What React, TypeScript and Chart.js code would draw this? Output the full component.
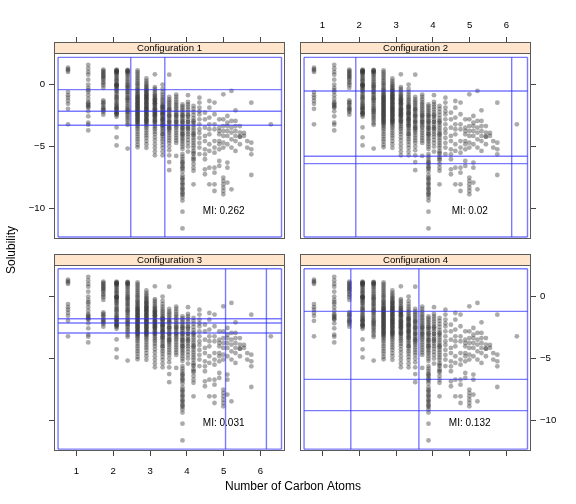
import React, { useEffect, useRef } from 'react';
import { Chart, registerables } from 'chart.js';

Chart.register(...registerables);

// ---- data ----
const carbonX = [
  0.77, 1.32, 1.73, 2.09, 2.39, 2.66, 2.9, 3.13, 3.34, 3.52, 3.71, 3.88, 4.03, 4.18,
  4.34, 4.49, 4.61, 4.75, 4.88, 4.99, 5.1, 5.21, 5.32, 5.44, 5.55, 5.64, 5.75, 6.28,
];

const solubility: number[][] = [
  [1.37, 1.25, 1.15, 1.02, -0.6, -0.85, -1.05, -1.3, -1.55, -1.95, -3.2],
  [1.6, 1.3, 1.02, 0.8, 0.4, 0.0, -0.27, -0.45, -0.6, -0.86, -1.13, -1.4, -1.5, -1.61, -1.7, -1.8, -1.85, -2.15, -2.56, -3.07, -3.23, -3.69],
  [1.21, 1.1, 1.02, 0.9, 0.8, 0.7, 0.62, 0.5, 0.4, 0.21, 0.1, -0.06, -0.27, -1.27, -1.4, -1.5, -1.61, -1.8, -1.9, -1.99, -2.1, -2.21, -2.42],
  [1.2, 1.15, 1.1, 1.1, 1.05, 1.0, 1.0, 0.9, 0.8, 0.7, 0.55, 0.45, 0.35, 0.25, 0.1, 0.0, 0.0, -0.05, -0.1, -0.1, -0.2, -0.3, -0.4, -0.5, -0.6, -0.75, -0.9, -1.0, -1.1, -1.2, -1.35, -1.5, -1.6, -1.7, -1.8, -1.9, -1.9, -2.0, -2.1, -2.2, -2.3, -2.3, -2.35, -2.45, -2.6, -3.45, -4.25, -4.9],
  [1.18, 1.12, 1.12, 1.05, 1.0, 0.9, 0.8, 0.65, 0.5, 0.35, 0.2, 0.05, -0.05, -0.15, -0.25, -0.35, -0.5, -0.6, -0.7, -0.85, -1.0, -1.1, -1.2, -1.3, -1.45, -1.6, -1.75, -1.9, -2.0, -2.1, -2.2, -2.3, -2.45, -2.6, -2.75, -2.9, -3.1, -3.25, -5.16],
  [1.15, 1.0, 0.85, 0.7, 0.55, 0.4, 0.25, 0.1, 0.0, -0.15, -0.3, -0.4, -0.5, -0.6, -0.7, -0.8, -0.9, -1.0, -1.0, -1.1, -1.2, -1.25, -1.3, -1.4, -1.5, -1.5, -1.6, -1.7, -1.75, -1.8, -1.9, -2.0, -2.0, -2.1, -2.2, -2.25, -2.3, -2.4, -2.5, -2.5, -2.6, -2.7, -2.75, -2.8, -2.9, -3.0, -3.0, -3.1, -3.2, -3.3, -3.45, -3.6, -3.8, -4.0, -4.2, -4.4, -4.6, -4.85, -5.05],
  [0.5, 0.3, 0.15, 0.0, -0.1, -0.2, -0.3, -0.4, -0.5, -0.5, -0.6, -0.7, -0.8, -0.8, -0.9, -1.0, -1.0, -1.1, -1.2, -1.2, -1.3, -1.4, -1.5, -1.5, -1.6, -1.7, -1.8, -1.8, -1.9, -2.0, -2.0, -2.1, -2.2, -2.2, -2.3, -2.4, -2.5, -2.5, -2.6, -2.7, -2.8, -2.8, -2.9, -3.0, -3.0, -3.1, -3.2, -3.35, -3.5, -3.7, -3.9, -4.1, -4.3, -4.55, -4.8, -5.1],
  [0.83, -0.2, -0.35, -0.5, -0.65, -0.8, -0.9, -1.0, -1.1, -1.2, -1.25, -1.3, -1.4, -1.5, -1.5, -1.6, -1.7, -1.8, -1.9, -2.0, -2.0, -2.1, -2.2, -2.25, -2.3, -2.4, -2.5, -2.5, -2.6, -2.7, -2.8, -2.9, -3.0, -3.0, -3.15, -3.3, -3.45, -3.6, -3.8, -4.0, -4.25, -4.5, -4.8, -5.1, -5.4, -5.7],
  [0.0, -0.35, -0.6, -0.8, -1.0, -1.15, -1.3, -1.45, -1.6, -1.7, -1.8, -1.8, -1.9, -2.0, -2.1, -2.2, -2.3, -2.3, -2.4, -2.5, -2.6, -2.7, -2.8, -2.8, -2.9, -3.0, -3.1, -3.2, -3.3, -3.35, -3.5, -3.65, -3.8, -4.0, -4.0, -4.2, -4.4, -4.6, -4.85, -5.1, -5.4, -5.7],
  [0.8, -1.0, -1.2, -1.35, -1.5, -1.65, -1.8, -1.95, -2.0, -2.1, -2.25, -2.4, -2.5, -2.55, -2.7, -2.85, -3.0, -3.0, -3.15, -3.3, -3.45, -3.5, -3.6, -3.75, -3.9, -4.1, -4.3, -4.5, -4.7, -5.0, -5.3, -5.7, -6.25, -6.9],
  [-0.8, -1.0, -1.2, -1.4, -1.55, -1.7, -1.85, -2.0, -2.15, -2.3, -2.45, -2.5, -2.6, -2.75, -2.9, -3.0, -3.05, -3.2, -3.35, -3.5, -3.7, -3.9, -4.1, -4.3, -4.5, -4.7, -5.75],
  [-1.6, -1.75, -1.9, -2.05, -2.2, -2.35, -2.5, -2.5, -2.65, -2.8, -2.95, -3.0, -3.1, -3.25, -3.4, -3.5, -3.55, -3.7, -3.85, -4.0, -4.0, -4.15, -4.3, -4.45, -4.6, -4.8, -5.0, -5.2, -5.6, -5.8, -6.0, -6.2, -6.3, -6.4, -6.6, -6.7, -6.8, -7.0, -7.3, -7.5, -7.6, -7.7, -7.9, -8.0, -8.1, -8.3, -8.4, -8.5, -8.7, -8.8, -8.9, -9.1, -9.35, -10.25, -11.6],
  [-0.85, -1.4, -1.6, -1.8, -2.0, -2.2, -2.4, -2.5, -2.6, -2.8, -3.0, -3.0, -3.2, -3.4, -3.5, -3.6, -3.8, -4.0, -4.2, -4.45, -4.7, -5.0, -5.4],
  [-1.72, -1.95, -2.2, -2.45, -2.7, -2.9, -3.0, -3.1, -3.3, -3.5, -3.7, -3.9, -4.0, -4.1, -4.3, -4.5, -4.7, -4.9, -5.1, -5.35, -5.5, -5.6, -5.85, -6.0, -6.1, -6.4, -6.7, -6.95, -8.04],
  [-1.05, -1.45, -1.85, -2.15, -2.4, -2.8, -3.2, -3.6, -3.9, -4.3, -4.7, -5.08, -5.6],
  [-2.26, -2.8, -3.47, -4.14, -4.55, -5.22, -5.62, -6.02, -6.83, -7.23],
  [-1.32, -1.86, -2.66, -3.2, -3.6, -4.01, -4.81, -5.35, -6.7, -8.04],
  [-1.45, -2.39, -3.2, -3.6, -4.55, -5.08, -5.49, -6.7, -7.1, -8.04, -8.58],
  [-2.8, -3.47, -3.74, -4.01, -4.55, -4.81, -5.22, -6.16, -6.56],
  [-0.78, -2.8, -3.34, -3.74, -4.14, -4.68, -5.08, -7.5, -7.77, -8.04, -8.31, -8.58, -8.85],
  [-2.53, -3.07, -3.34, -3.74, -4.14, -4.81, -6.29, -6.7, -7.9],
  [-0.51, -2.93, -3.47, -3.87, -4.41, -5.08, -8.44],
  [-2.07, -2.93, -3.34, -3.74, -4.14, -4.55, -5.35],
  [-3.34, -3.87, -4.2, -4.2, -4.81],
  [-3.9, -4.14],
  [-4.55, -5.08],
  [-1.46, -4.68, -5.22, -5.62, -7.29],
  [-3.2],
];

const xTicks = [1, 2, 3, 4, 5, 6];
const yTicks = [0, -5, -10];
const panelLabels = ['Configuration 1', 'Configuration 2', 'Configuration 3', 'Configuration 4'];
const miValues = ['0.262', '0.02', '0.031', '0.132'];
const gridVertical = [
  [0.5, 2.475, 3.4, 6.57],
  [0.5, 1.905, 6.14, 6.57],
  [0.5, 5.05, 6.16, 6.57],
  [0.5, 1.77, 3.62, 6.57],
];
const gridHorizontal = [
  [2.2, -0.4, -2.15, -3.28, -12.29],
  [2.2, -0.52, -5.78, -6.37, -12.29],
  [2.25, -1.78, -2.13, -2.93, -12.3],
  [2.25, -1.19, -6.67, -9.19, -12.3],
];
const miPos = { x: 5.0, y: -10.2 };
const xLabel = 'Number of Carbon Atoms';
const yLabel = 'Solubility';

// ---- layout / style ----
const W = 576;
const H = 504;
const X_MIN = 0.39;
const X_MAX = 6.665;
const Y_MIN = -12.45;
const Y_MAX = 2.55;
const STRIP = 11;
const TICK = 5;
const Y_AXIS_W = 40;
const X_AXIS_H = 36;
const FONT = "'Liberation Sans', Arial, Helvetica, sans-serif";

const layout = [
  { left: 54, right: 285, top: 53, bottom: 239, xPos: 'top', xLab: false, yPos: 'left', yLab: true },
  { left: 300, right: 531, top: 53, bottom: 239, xPos: 'top', xLab: true, yPos: 'right', yLab: false },
  { left: 54, right: 285, top: 265, bottom: 451, xPos: 'bottom', xLab: true, yPos: 'left', yLab: false },
  { left: 300, right: 531, top: 265, bottom: 451, xPos: 'bottom', xLab: false, yPos: 'right', yLab: true },
];

const fmt = (v: number) => (v < 0 ? '\u2212' + Math.abs(v) : String(v));

const decorPlugin = {
  id: 'panelDecor',
  afterDraw(chart: any, _args: any, opts: any) {
    const { ctx, chartArea: a, scales } = chart;
    const xs = scales.x;
    const ys = scales.y;
    ctx.save();
    // partition grid lines
    const vx: number[] = opts.v;
    const hy: number[] = opts.h;
    const xL = xs.getPixelForValue(vx[0]);
    const xR = xs.getPixelForValue(vx[vx.length - 1]);
    const yT = ys.getPixelForValue(hy[0]);
    const yB = ys.getPixelForValue(hy[hy.length - 1]);
    ctx.strokeStyle = 'rgba(40,40,255,0.62)';
    ctx.lineWidth = 1.4;
    vx.forEach((v) => {
      const p = xs.getPixelForValue(v);
      ctx.beginPath();
      ctx.moveTo(p, yT);
      ctx.lineTo(p, yB);
      ctx.stroke();
    });
    hy.forEach((v) => {
      const p = ys.getPixelForValue(v);
      ctx.beginPath();
      ctx.moveTo(xL, p);
      ctx.lineTo(xR, p);
      ctx.stroke();
    });
    // MI text
    ctx.fillStyle = '#000';
    ctx.font = `10px ${FONT}`;
    ctx.textAlign = 'center';
    ctx.textBaseline = 'middle';
    ctx.fillText('MI: ' + opts.mi, xs.getPixelForValue(miPos.x), ys.getPixelForValue(miPos.y));
    // strip
    const l = Math.round(a.left) + 0.5;
    const r = Math.round(a.right) - 0.5;
    const t = Math.round(a.top) + 0.5;
    const b = Math.round(a.bottom) - 0.5;
    ctx.fillStyle = '#ffe5cc';
    ctx.fillRect(l, t - STRIP, r - l, STRIP);
    ctx.strokeStyle = '#5a5a5a';
    ctx.lineWidth = 1;
    ctx.strokeRect(l, t - STRIP, r - l, STRIP);
    ctx.strokeRect(l, t - STRIP, r - l, b - t + STRIP);
    ctx.fillStyle = '#000';
    ctx.font = `9.6px ${FONT}`;
    ctx.textAlign = 'center';
    ctx.textBaseline = 'middle';
    ctx.fillText(opts.label, (l + r) / 2, t - STRIP / 2 + 0.5);
    // global axis titles
    if (opts.titles) {
      ctx.font = `12px ${FONT}`;
      ctx.fillText(xLabel, 293, 487);
      ctx.save();
      ctx.translate(12, 250);
      ctx.rotate(-Math.PI / 2);
      ctx.fillText(yLabel, 0, 0);
      ctx.restore();
    }
    ctx.restore();
  },
};

export default function App() {
  const refs = [useRef<HTMLCanvasElement>(null), useRef<HTMLCanvasElement>(null), useRef<HTMLCanvasElement>(null), useRef<HTMLCanvasElement>(null)];

  useEffect(() => {
    const points = carbonX.flatMap((x, i) => solubility[i].map((y) => ({ x, y })));
    const charts = layout.map((p, i) => {
      const xTickLen = p.xPos === 'top' ? STRIP + TICK : TICK;
      const padding = {
        left: p.yPos === 'left' ? p.left - Y_AXIS_W : p.left,
        right: p.yPos === 'right' ? W - p.right - Y_AXIS_W : W - p.right,
        top: p.xPos === 'top' ? p.top - X_AXIS_H : p.top,
        bottom: p.xPos === 'bottom' ? H - p.bottom - X_AXIS_H : H - p.bottom,
      };
      const canvas = refs[i].current as HTMLCanvasElement;
      return new Chart(canvas, {
        type: 'scatter',
        data: {
          datasets: [
            {
              data: points,
              backgroundColor: 'rgba(55,55,55,0.42)',
              borderWidth: 0,
              pointRadius: 2.4,
              pointHoverRadius: 2.4,
            },
          ],
        },
        plugins: [decorPlugin],
        options: {
          animation: false,
          responsive: false,
          devicePixelRatio: 1,
          events: [],
          layout: { padding },
          plugins: {
            legend: { display: false },
            tooltip: { enabled: false },
            panelDecor: {
              v: gridVertical[i],
              h: gridHorizontal[i],
              mi: miValues[i],
              label: panelLabels[i],
              titles: i === 2,
            },
          } as any,
          scales: {
            x: {
              type: 'linear',
              position: p.xPos as any,
              min: X_MIN,
              max: X_MAX,
              afterBuildTicks: (s: any) => {
                s.ticks = xTicks.map((v) => ({ value: v }));
              },
              afterFit: (s: any) => {
                s.height = X_AXIS_H;
              },
              ticks: {
                display: p.xLab,
                color: '#000',
                font: { family: FONT, size: 9.6 },
                padding: p.xPos === 'top' ? 6 : 10,
                maxRotation: 0,
                autoSkip: false,
                callback: (v: any) => fmt(Number(v)),
              },
              grid: {
                drawOnChartArea: false,
                drawTicks: true,
                tickLength: xTickLen,
                tickColor: '#444',
                lineWidth: 1,
              },
              border: { display: false },
            },
            y: {
              type: 'linear',
              position: p.yPos as any,
              min: Y_MIN,
              max: Y_MAX,
              afterBuildTicks: (s: any) => {
                s.ticks = yTicks.map((v) => ({ value: v }));
              },
              afterFit: (s: any) => {
                s.width = Y_AXIS_W;
              },
              ticks: {
                display: p.yLab,
                color: '#000',
                font: { family: FONT, size: 9.6 },
                padding: 4,
                autoSkip: false,
                callback: (v: any) => fmt(Number(v)),
              },
              grid: {
                drawOnChartArea: false,
                drawTicks: true,
                tickLength: TICK,
                tickColor: '#444',
                lineWidth: 1,
              },
              border: { display: false },
            },
          },
        } as any,
      });
    });
    return () => charts.forEach((c) => c.destroy());
  }, []);

  return (
    <div style={{ position: 'fixed', left: 0, top: 0, width: W, height: H, background: '#fff' }}>
      {refs.map((r, i) => (
        <canvas key={i} ref={r} width={W} height={H} style={{ position: 'absolute', left: 0, top: 0, width: W, height: H }} />
      ))}
    </div>
  );
}
